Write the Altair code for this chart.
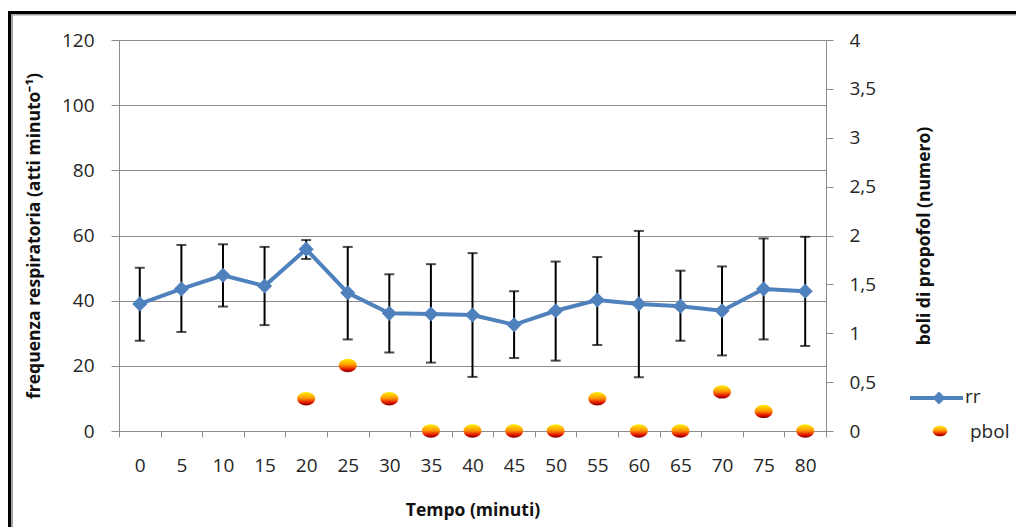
import altair as alt
import pandas as pd

# ---- data ----
tempo = [0, 5, 10, 15, 20, 25, 30, 35, 40, 45, 50, 55, 60, 65, 70, 75, 80]
rr = [39.0, 43.6, 47.8, 44.5, 55.8, 42.4, 36.1, 35.9, 35.6, 32.6, 36.9, 40.2, 39.0, 38.3, 36.9, 43.6, 42.9]
rr_hi = [50.1, 57.1, 57.3, 56.5, 58.6, 56.5, 48.1, 51.2, 54.6, 42.9, 52.0, 53.4, 61.4, 49.2, 50.5, 59.1, 59.6]
rr_lo = [27.7, 30.4, 38.2, 32.5, 52.8, 28.1, 24.1, 21.0, 16.6, 22.4, 21.6, 26.4, 16.5, 27.7, 23.2, 28.1, 26.1]
pbol = [None, None, None, None, 0.33, 0.67, 0.33, 0, 0, 0, 0, 0.33, 0, 0, 0.40, 0.20, 0]

left_ticks = [0, 20, 40, 60, 80, 100, 120]
right_ticks = [0, 0.5, 1, 1.5, 2, 2.5, 3, 3.5, 4]

df = pd.DataFrame({"t": tempo, "rr": rr, "hi": rr_hi, "lo": rr_lo, "pbol": pbol})
df_p = df.dropna(subset=["pbol"])

FONT = "Open Sans"
BLUE = "#4F81BD"
GRAY = "#8C8C8C"
LBL = "#262626"
W, H = 707, 391
TICKFS = 19
TITLEFS = 17.5

grad = alt.LinearGradient(
    gradient="linear",
    stops=[
        alt.GradientStop(color="#FFEE00", offset=0),
        alt.GradientStop(color="#FF9900", offset=0.45),
        alt.GradientStop(color="#E01000", offset=0.8),
        alt.GradientStop(color="#7A0000", offset=1),
    ],
    x1=0, x2=0, y1=0, y2=1,
)
ELLIPSE = "M-1,0A1,0.74,0,1,1,1,0A1,0.74,0,1,1,-1,0Z"

xenc = alt.X(
    "t:O",
    scale=alt.Scale(type="band", paddingInner=0, paddingOuter=0),
    axis=alt.Axis(
        title="Tempo (minuti)", labelAngle=0, tickBand="extent",
        labelFontSize=TICKFS, labelPadding=19, titlePadding=26,
        titleFontSize=TITLEFS, titleFontWeight="bold",
        domainColor=GRAY, tickColor=GRAY, tickSize=6, labelColor=LBL,
    ),
)

yleft = alt.Scale(domain=[0, 120], nice=False)
yaxis_left = alt.Axis(
    title="frequenza respiratoria (atti minuto⁻¹)", values=left_ticks,
    grid=True, gridColor=GRAY, domainColor=GRAY, tickColor=GRAY, tickSize=8,
    labelFontSize=TICKFS, labelPadding=17, labelColor=LBL,
    titleFontSize=TITLEFS, titleFontWeight="bold", titlePadding=18,
)

err = alt.Chart(df).mark_rule(color="black", strokeWidth=2).encode(
    x=xenc,
    y=alt.Y("lo:Q", scale=yleft, axis=yaxis_left),
    y2="hi:Q",
)
cap_hi = alt.Chart(df).mark_tick(color="black", thickness=2, size=10).encode(
    x=xenc, y=alt.Y("hi:Q", scale=yleft)
)
cap_lo = alt.Chart(df).mark_tick(color="black", thickness=2, size=10).encode(
    x=xenc, y=alt.Y("lo:Q", scale=yleft)
)
line = alt.Chart(df).mark_line(color=BLUE, strokeWidth=4).encode(
    x=xenc, y=alt.Y("rr:Q", scale=yleft)
)
pts = alt.Chart(df).mark_point(
    shape="diamond", filled=True, color=BLUE, size=230, opacity=1
).encode(x=xenc, y=alt.Y("rr:Q", scale=yleft))

left = alt.layer(err, cap_hi, cap_lo, line, pts)

right = alt.Chart(df_p).mark_point(
    shape=ELLIPSE, filled=True, fill=grad, size=324, opacity=1, strokeWidth=0
).encode(
    x=xenc,
    y=alt.Y(
        "pbol:Q",
        scale=alt.Scale(domain=[0, 4], nice=False),
        axis=alt.Axis(
            title="boli di propofol (numero)", orient="right", values=right_ticks,
            grid=False, domainColor=GRAY, tickColor=GRAY, tickSize=7,
            labelFontSize=TICKFS, labelPadding=16, labelColor=LBL,
            labelExpr="replace(toString(datum.value), '.', ',')",
            titleFontSize=TITLEFS, titleFontWeight="bold", titlePadding=58,
            titleAngle=270,
        ),
    ),
)

one = alt.Data(values=[{"a": 1}])
# legend (drawn by hand, Excel style)
leg_line = alt.Chart(one).mark_rule(color=BLUE, strokeWidth=4).encode(
    x=alt.value(791), x2=alt.value(844), y=alt.value(358)
)
leg_dia = alt.Chart(one).mark_point(shape="diamond", filled=True, color=BLUE, size=170, opacity=1).encode(
    x=alt.value(820), y=alt.value(358)
)
leg_rr = alt.Chart(one).mark_text(align="left", baseline="middle", fontSize=TICKFS, font=FONT, color=LBL).encode(
    x=alt.value(846), y=alt.value(357), text=alt.value("rr")
)
leg_ell = alt.Chart(one).mark_point(shape=ELLIPSE, filled=True, fill=grad, size=210, opacity=1, strokeWidth=0).encode(
    x=alt.value(821), y=alt.value(391)
)
leg_pb = alt.Chart(one).mark_text(align="left", baseline="middle", fontSize=TICKFS, font=FONT, color=LBL).encode(
    x=alt.value(851), y=alt.value(392), text=alt.value("pbol")
)
# outer chart frame
frame = alt.Chart(one).mark_rect(filled=False, stroke="black", strokeWidth=3).encode(
    x=alt.value(-109.5), x2=alt.value(1500), y=alt.value(-27.5), y2=alt.value(1500)
)
frame_v = alt.Chart(one).mark_rule(color="#A0A0A0", strokeWidth=2).encode(
    x=alt.value(-107), y=alt.value(-26), y2=alt.value(1500)
)
frame_h = alt.Chart(one).mark_rule(color="#A0A0A0", strokeWidth=1.5).encode(
    x=alt.value(-107), x2=alt.value(1500), y=alt.value(-25.3)
)

chart = (
    alt.layer(left, right, leg_line, leg_dia, leg_rr, leg_ell, leg_pb, frame, frame_v, frame_h)
    .resolve_scale(y="independent")
    .properties(
        width=W, height=H,
        autosize=alt.AutoSizeParams(type="none"),
        padding={"left": 111, "top": 32, "right": 190, "bottom": 96},
    )
    .configure(font=FONT)
    .configure_view(stroke=None)
    .configure_axis(labelFont=FONT, titleFont=FONT, titleColor="#111111")
)

chart.save("out.html", embed_options={"renderer": "svg", "actions": False})
